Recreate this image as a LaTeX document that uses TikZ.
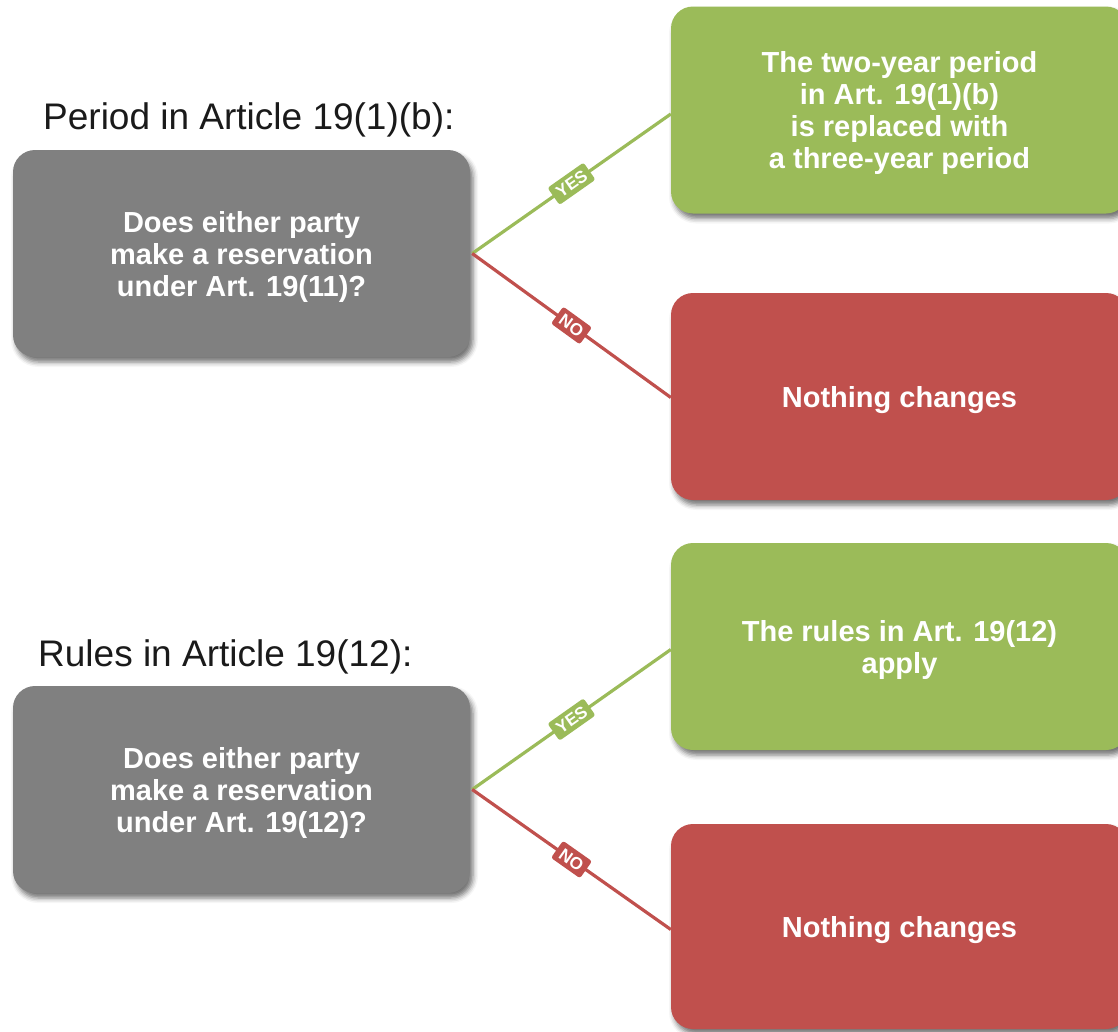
\documentclass[tikz,border=0pt]{standalone}
\usepackage{fontspec}
\setmainfont{Liberation Sans}
\usetikzlibrary{shadows.blur}
\definecolor{boxgrey}{HTML}{808080}
\definecolor{yesgreen}{HTML}{9BBB59}
\definecolor{nored}{HTML}{C0504D}
\definecolor{titleink}{HTML}{1A1A1A}

\begin{document}
\begin{tikzpicture}[x=1pt,y=-1pt,
  card/.style={rounded corners=22pt, minimum width=457pt, minimum height=207pt,
    inner sep=0pt, align=center, text=white, text depth=0pt,
    font=\fontsize{29}{32}\selectfont\bfseries,
    blur shadow={shadow xshift=3pt, shadow yshift=-5pt,
      shadow blur radius=5pt, shadow opacity=55}},
  question/.style={card, fill=boxgrey},
  yesbox/.style={card, fill=yesgreen},
  nobox/.style={card, fill=nored},
  heading/.style={anchor=base west, text=titleink, inner sep=0pt,
    font=\fontsize{37}{44}\selectfont},
  branch/.style={line width=3.2pt},
  tag/.style={sloped, rounded corners=2.5pt, text=white, inner xsep=5pt,
    inner ysep=4.5pt, text depth=0pt, font=\fontsize{17}{17}\selectfont\bfseries}
]
\clip (0,0) rectangle (1118,1031);

% first decision: period in Article 19(1)(b)
\node[heading] (h1) at (43,129) {Period in Article 19(1)(b):};
\node[question] (q1) at (241.5,253.5) {Does either party\\make a reservation\\under Art. 19(11)?};
\node[yesbox] (y1) at (899.5,110) {The two-year period\\in Art. 19(1)(b)\\is replaced with\\a three-year period};
\node[nobox] (n1) at (899.5,396.5) {Nothing changes};

% second decision: rules in Article 19(12)
\node[heading] (h2) at (38,666.5) {Rules in Article 19(12):};
\node[question] (q2) at (241.5,789.5) {Does either party\\make a reservation\\under Art. 19(12)?};
\node[yesbox, minimum height=207pt] (y2) at (899.5,646.5) {The rules in Art. 19(12)\\apply};
\node[nobox, minimum height=205pt] (n2) at (899.5,926.5) {Nothing changes};

% branches
\draw[branch, yesgreen] ([xshift=2pt]q1.east) -- node[tag, fill=yesgreen] {YES} ([yshift=-4pt]y1.west);
\draw[branch, nored] ([xshift=2pt]q1.east) -- node[tag, fill=nored] {NO} ([yshift=-1pt]n1.west);
\draw[branch, yesgreen] ([xshift=2pt]q2.east) -- node[tag, fill=yesgreen] {YES} ([yshift=-3pt]y2.west);
\draw[branch, nored] ([xshift=2pt]q2.east) -- node[tag, fill=nored] {NO} ([yshift=-3pt]n2.west);
\end{tikzpicture}
\end{document}
